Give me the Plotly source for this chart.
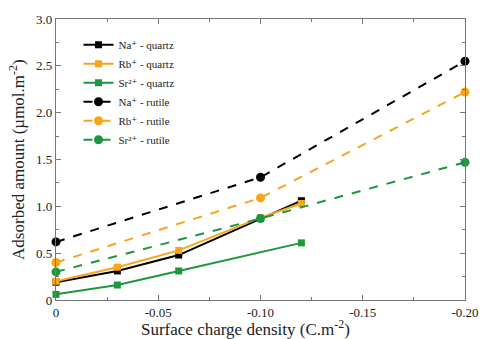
import plotly.graph_objects as go

# Data
x_quartz = [0, -0.03, -0.06, -0.10, -0.12]
na_quartz = [0.19, 0.31, 0.48, 0.87, 1.06]
rb_quartz = [0.20, 0.35, 0.53, 0.88, 1.03]
x_sr_quartz = [0, -0.03, -0.06, -0.12]
sr_quartz = [0.06, 0.16, 0.31, 0.61]
x_rutile = [0, -0.10, -0.20]
na_rutile = [0.62, 1.31, 2.55]
rb_rutile = [0.40, 1.09, 2.22]
sr_rutile = [0.30, 0.87, 1.47]

x_ticks = [0, -0.05, -0.10, -0.15, -0.20]
x_ticklabels = ["0", "-0.05", "-0.10", "-0.15", "-0.20"]
y_ticks = [0, 0.5, 1.0, 1.5, 2.0, 2.5, 3.0]
y_ticklabels = ["0", "0.5", "1.0", "1.5", "2.0", "2.5", "3.0"]

BLACK = "#000000"
ORANGE = "#F8A51B"
GREEN = "#1E963F"
SERIF = "Liberation Serif, DejaVu Serif, serif"

fig = go.Figure()

def add(x, y, name, color, symbol, dash):
    fig.add_trace(go.Scatter(
        x=x, y=y, name=name, mode="lines+markers", cliponaxis=False,
        line=dict(color=color, width=2, dash=dash),
        marker=dict(color=color, symbol=symbol, size=9 if symbol == "circle" else 7),
    ))

add(x_quartz, na_quartz, "Na⁺ - quartz", BLACK, "square", "solid")
add(x_quartz, rb_quartz, "Rb⁺ - quartz", ORANGE, "square", "solid")
add(x_sr_quartz, sr_quartz, "Sr²⁺ - quartz", GREEN, "square", "solid")
add(x_rutile, na_rutile, "Na⁺ - rutile", BLACK, "circle", "dash")
add(x_rutile, rb_rutile, "Rb⁺ - rutile", ORANGE, "circle", "dash")
add(x_rutile, sr_rutile, "Sr²⁺ - rutile", GREEN, "circle", "dash")

axis_common = dict(
    showline=True, linecolor="#777777", linewidth=1.2, mirror="ticks",
    ticks="inside", ticklen=5, tickcolor="#777777", showgrid=False, zeroline=False,
    tickfont=dict(family=SERIF, size=13, color="#222222"),
)

fig.update_xaxes(
    range=[0, -0.20], tickvals=x_ticks, ticktext=x_ticklabels,
    minor=dict(ticks="inside", ticklen=3, tickcolor="#777777", dtick=0.025, showgrid=False),
    **axis_common,
)
fig.update_yaxes(
    range=[0, 3.0], tickvals=y_ticks, ticktext=y_ticklabels,
    minor=dict(ticks="inside", ticklen=3, tickcolor="#777777", dtick=0.25, showgrid=False),
    **axis_common,
)

fig.add_annotation(
    text="Surface charge density (C.m<sup>-2</sup>)", xref="paper", yref="paper",
    x=0.464, y=-0.10, xanchor="center", yanchor="middle", showarrow=False,
    font=dict(family=SERIF, size=17, color="#222222"),
)
fig.add_annotation(
    text="Adsorbed amount (µmol.m<sup>-2</sup>)", xref="paper", yref="paper",
    x=-0.065, y=0.5, xanchor="right", yanchor="middle", textangle=-90, showarrow=False,
    font=dict(family=SERIF, size=17, color="#222222"),
)

fig.update_layout(
    width=491, height=339,
    margin=dict(l=56, r=15, t=14, b=39),
    paper_bgcolor="white", plot_bgcolor="white",
    showlegend=True,
    legend=dict(
        x=0.055, y=0.96, xanchor="left", yanchor="top",
        bgcolor="rgba(255,255,255,0)",
        font=dict(family=SERIF, size=11, color="#222222"),
        tracegroupgap=0, itemwidth=30,
    ),
)

fig.write_html(
    "out.html",
    config={"displayModeBar": False},
    post_script="document.body.style.margin='0';document.body.style.overflow='hidden';",
)
